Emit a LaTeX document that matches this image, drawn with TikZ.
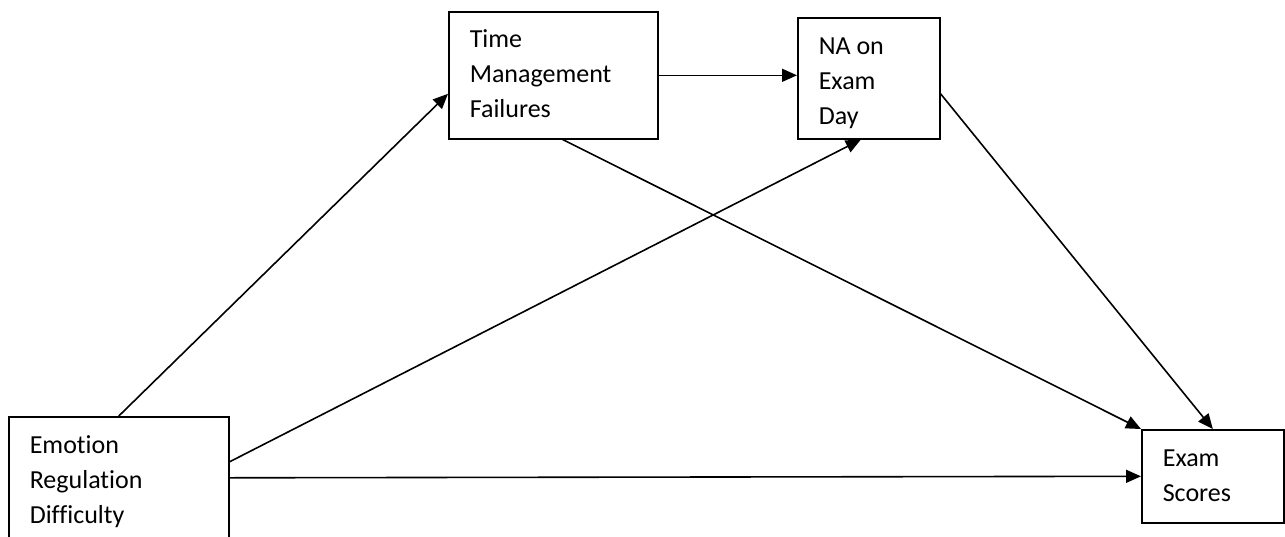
\documentclass[tikz,border=0pt]{standalone}
\usepackage{fontspec}
\setmainfont{Carlito}[Ligatures=NoCommon]
\usetikzlibrary{arrows.meta}

\begin{document}
\begin{tikzpicture}[x=1pt, y=-1pt,
    varbox/.style={draw, line width=1.6pt, anchor=north west, inner xsep=21pt, inner ysep=0pt,
      align=flush left, font=\fontsize{26}{35}\selectfont},
    path/.style={line width=1.6pt, -{Triangle[length=15pt, width=13pt]}}]
      \path[use as bounding box, clip] (0,0) rectangle (1285,536);

      \node[varbox, text width=178pt, text height=37pt, text depth=103pt] (erd) at (8,416) {Emotion\\Regulation\\Difficulty};
      \node[varbox, text width=167pt, text height=36pt, text depth=91pt] (tmf) at (448,11) {Time\\Management\\Failures};
      \node[varbox, text width=100pt, text height=37pt, text depth=84pt] (na) at (797,17) {NA on\\Exam\\Day};
      \node[varbox, text width=100pt, text height=37pt, text depth=56pt] (es) at (1141,429) {Exam\\Scores};

      \draw[path] (erd.north) -- ([yshift=-18.5pt]tmf.west);
      \draw[path] (tmf.east) -- (tmf.east -| na.west);
      \draw[path] ([yshift=25pt]erd.east) -- ([xshift=-8pt]na.south);
      \draw[path] ([xshift=9.5pt]tmf.south) -- (es.north west);
      \draw[path] ([yshift=-15.5pt]na.east) -- (es.north);
      \draw[path] ([yshift=9pt]erd.east) -- (es.west);

\end{tikzpicture}
\end{document}
